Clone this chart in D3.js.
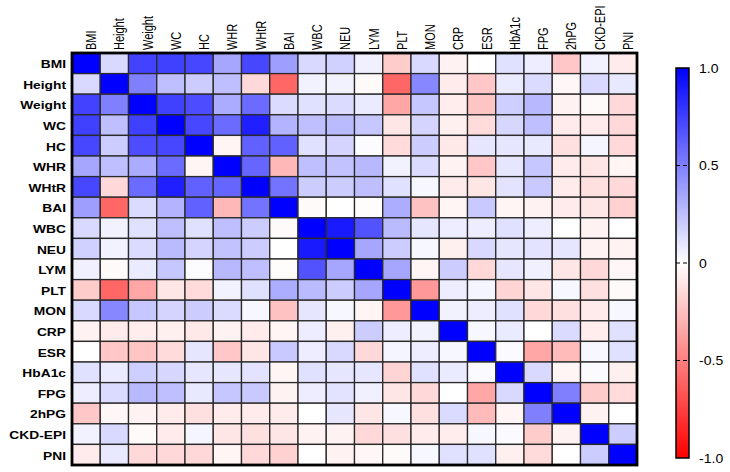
<!DOCTYPE html>
<html><head><meta charset="utf-8">
<script src="https://cdn.jsdelivr.net/npm/d3@7"></script>
<style>body{margin:0;background:#fff}svg{display:block}</style>
</head><body>
<script>
const variables = ["BMI","Height","Weight","WC","HC","WHR","WHtR","BAI","WBC","NEU","LYM","PLT","MON","CRP","ESR","HbA1c","FPG","2hPG","CKD-EPI","PNI"];
const correlations = [
 [1,0.15,0.74,0.75,0.72,0.35,0.72,0.38,0.15,0.18,0.06,-0.2,0.15,-0.05,0.0,0.12,0.07,-0.22,0.05,-0.08],
 [0.15,1,0.5,0.25,0.2,0.25,-0.15,-0.6,0.05,0.05,-0.02,-0.6,0.47,-0.08,-0.22,0.08,0.14,-0.03,0.15,0.09],
 [0.74,0.5,1,0.75,0.7,0.33,0.58,0.14,0.12,0.14,0.08,-0.35,0.22,-0.07,-0.23,0.19,0.28,-0.05,-0.02,-0.15],
 [0.75,0.25,0.75,1,0.72,0.58,0.88,0.3,0.25,0.27,0.22,-0.1,0.17,-0.06,-0.14,0.16,0.25,-0.08,-0.08,-0.15],
 [0.72,0.2,0.7,0.72,1,-0.04,0.62,0.62,0.12,0.17,0.01,-0.14,0.2,-0.09,0.1,0.1,0.09,-0.12,0.04,-0.15],
 [0.35,0.25,0.33,0.58,-0.04,1,0.6,-0.28,0.25,0.24,0.28,0.05,0.14,-0.05,-0.22,0.1,0.22,-0.08,-0.1,-0.04],
 [0.72,-0.15,0.58,0.88,0.62,0.6,1,0.55,0.2,0.2,0.25,0.12,0.03,-0.08,-0.1,0.11,0.21,-0.08,-0.12,-0.15],
 [0.38,-0.6,0.14,0.3,0.62,-0.28,0.55,1,-0.02,0.0,-0.01,0.32,-0.24,-0.04,0.21,-0.04,-0.05,-0.08,-0.1,-0.18],
 [0.15,0.05,0.12,0.25,0.12,0.25,0.2,-0.02,1,0.9,0.68,0.27,0.1,0.07,0.07,0.12,0.07,0.0,-0.05,0.0],
 [0.18,0.05,0.14,0.27,0.17,0.24,0.2,0.0,0.9,1,0.35,0.2,0.03,-0.06,0.15,0.1,0.11,0.1,-0.05,-0.05],
 [0.06,-0.02,0.08,0.22,0.01,0.28,0.25,-0.01,0.68,0.35,1,0.35,-0.04,0.2,-0.15,0.1,0.06,-0.1,-0.15,-0.03],
 [-0.2,-0.6,-0.35,-0.1,-0.14,0.05,0.12,0.32,0.27,0.2,0.35,1,-0.4,0.07,0.04,-0.17,-0.1,0.03,-0.12,-0.02],
 [0.15,0.47,0.22,0.17,0.2,0.14,0.03,-0.24,0.1,0.03,-0.04,-0.4,1,0.05,0.07,0.12,-0.15,-0.12,-0.08,0.03],
 [-0.05,-0.08,-0.07,-0.06,-0.09,-0.05,-0.08,-0.04,0.07,-0.06,0.2,0.07,0.05,1,0.03,0.08,0.0,0.14,-0.07,0.12],
 [0.0,-0.22,-0.23,-0.14,0.1,-0.22,-0.1,0.21,0.07,0.15,-0.15,0.04,0.07,0.03,1,0.02,-0.35,-0.27,0.03,0.12],
 [0.12,0.08,0.19,0.16,0.1,0.1,0.11,-0.04,0.12,0.1,0.1,-0.17,0.12,0.08,0.02,1,0.15,-0.04,0.02,-0.06],
 [0.07,0.14,0.28,0.25,0.09,0.22,0.21,-0.05,0.07,0.11,0.06,-0.1,-0.15,0.0,-0.35,0.15,1,0.5,-0.2,-0.14],
 [-0.22,-0.03,-0.05,-0.08,-0.12,-0.08,-0.08,-0.08,0.0,0.1,-0.1,0.03,-0.12,0.14,-0.27,-0.04,0.5,1,-0.05,0.0],
 [0.05,0.15,-0.02,-0.08,0.04,-0.1,-0.12,-0.1,-0.05,-0.05,-0.15,-0.12,-0.08,-0.07,0.03,0.02,-0.2,-0.05,1,0.2],
 [-0.08,0.09,-0.15,-0.15,-0.15,-0.04,-0.15,-0.18,0.0,-0.05,-0.03,-0.02,0.03,0.12,0.12,-0.06,-0.14,0.0,0.2,1]
];
const legendTicks = [1.0, 0.5, 0, -0.5, -1.0];
const legendTickLabels = ["1.0","0.5","0","-0.5","-1.0"];

(function () {
const W = 730, H = 472;
const FONT = "Liberation Sans, Arial, sans-serif";
const svg = d3.select("body").append("svg").attr("width", W).attr("height", H);
const gl = 72, gr = 637, gt = 53, gb = 465;

const x = d3.scaleBand().domain(variables).range([gl, gr]);
const y = d3.scaleBand().domain(variables).range([gt, gb]);
const color = d3.scaleLinear().domain([-1, 0, 1]).range(["#ff0000", "#ffffff", "#0000ff"]);

const cells = [];
correlations.forEach((row, i) => row.forEach((v, j) => cells.push({r: variables[i], c: variables[j], v})));

svg.append("g").selectAll("rect").data(cells).join("rect")
  .attr("x", d => x(d.c)).attr("y", d => y(d.r))
  .attr("width", x.bandwidth()).attr("height", y.bandwidth())
  .attr("fill", d => color(d.v))
  .attr("stroke", "#2a2a2a").attr("stroke-width", 1.3);

svg.append("rect").attr("x", gl).attr("y", gt)
  .attr("width", gr - gl).attr("height", gb - gt)
  .attr("fill", "none").attr("stroke", "#000").attr("stroke-width", 2.8);

svg.append("g").selectAll("text").data(variables).join("text")
  .attr("transform", d => `translate(${gl - 6},${y(d) + y.bandwidth() / 2 + 1}) scale(1.22,1)`)
  .attr("dy", "0.35em").attr("text-anchor", "end")
  .attr("font-family", FONT)
  .attr("font-size", 11.3).attr("font-weight", "bold").attr("fill", "#000")
  .text(d => d);

svg.append("g").selectAll("text").data(variables).join("text")
  .attr("transform", d => `translate(${x(d) + x.bandwidth() / 2 + 10},${gt - 3}) scale(1.25,1) rotate(-90)`)
  .attr("text-anchor", "start")
  .attr("font-family", FONT)
  .attr("font-size", 11).attr("fill", "#000")
  .text(d => d);

const lx = 676, lw = 13, ltop = 68, lbot = 458;
const ly = d3.scaleLinear().domain([1, -1]).range([ltop, lbot]);
const defs = svg.append("defs");
const grad = defs.append("linearGradient").attr("id", "cbar")
  .attr("x1", 0).attr("y1", 0).attr("x2", 0).attr("y2", 1);
grad.append("stop").attr("offset", "0%").attr("stop-color", color(1));
grad.append("stop").attr("offset", "50%").attr("stop-color", color(0));
grad.append("stop").attr("offset", "100%").attr("stop-color", color(-1));
svg.append("rect").attr("x", lx).attr("y", ltop).attr("width", lw).attr("height", lbot - ltop)
  .attr("fill", "url(#cbar)").attr("stroke", "#000").attr("stroke-width", 1.5);

const axis = d3.axisRight(ly).tickValues(legendTicks)
  .tickFormat((d, i) => legendTickLabels[i]).tickSize(0).tickPadding(9);
const ag = svg.append("g").attr("transform", `translate(${lx + lw},0)`).call(axis);
ag.select(".domain").remove();
ag.selectAll("text").attr("font-family", FONT)
  .attr("font-size", 12.5).attr("fill", "#000")
  .attr("transform", "scale(1.12,1)");
svg.append("g").selectAll("line").data(legendTicks.filter(t => Math.abs(t) < 1)).join("line")
  .attr("x1", lx).attr("x2", lx + lw).attr("y1", d => ly(d)).attr("y2", d => ly(d))
  .attr("stroke", "#000").attr("stroke-width", 1.2).attr("stroke-dasharray", "4,3");
})();
</script>
</body></html>
